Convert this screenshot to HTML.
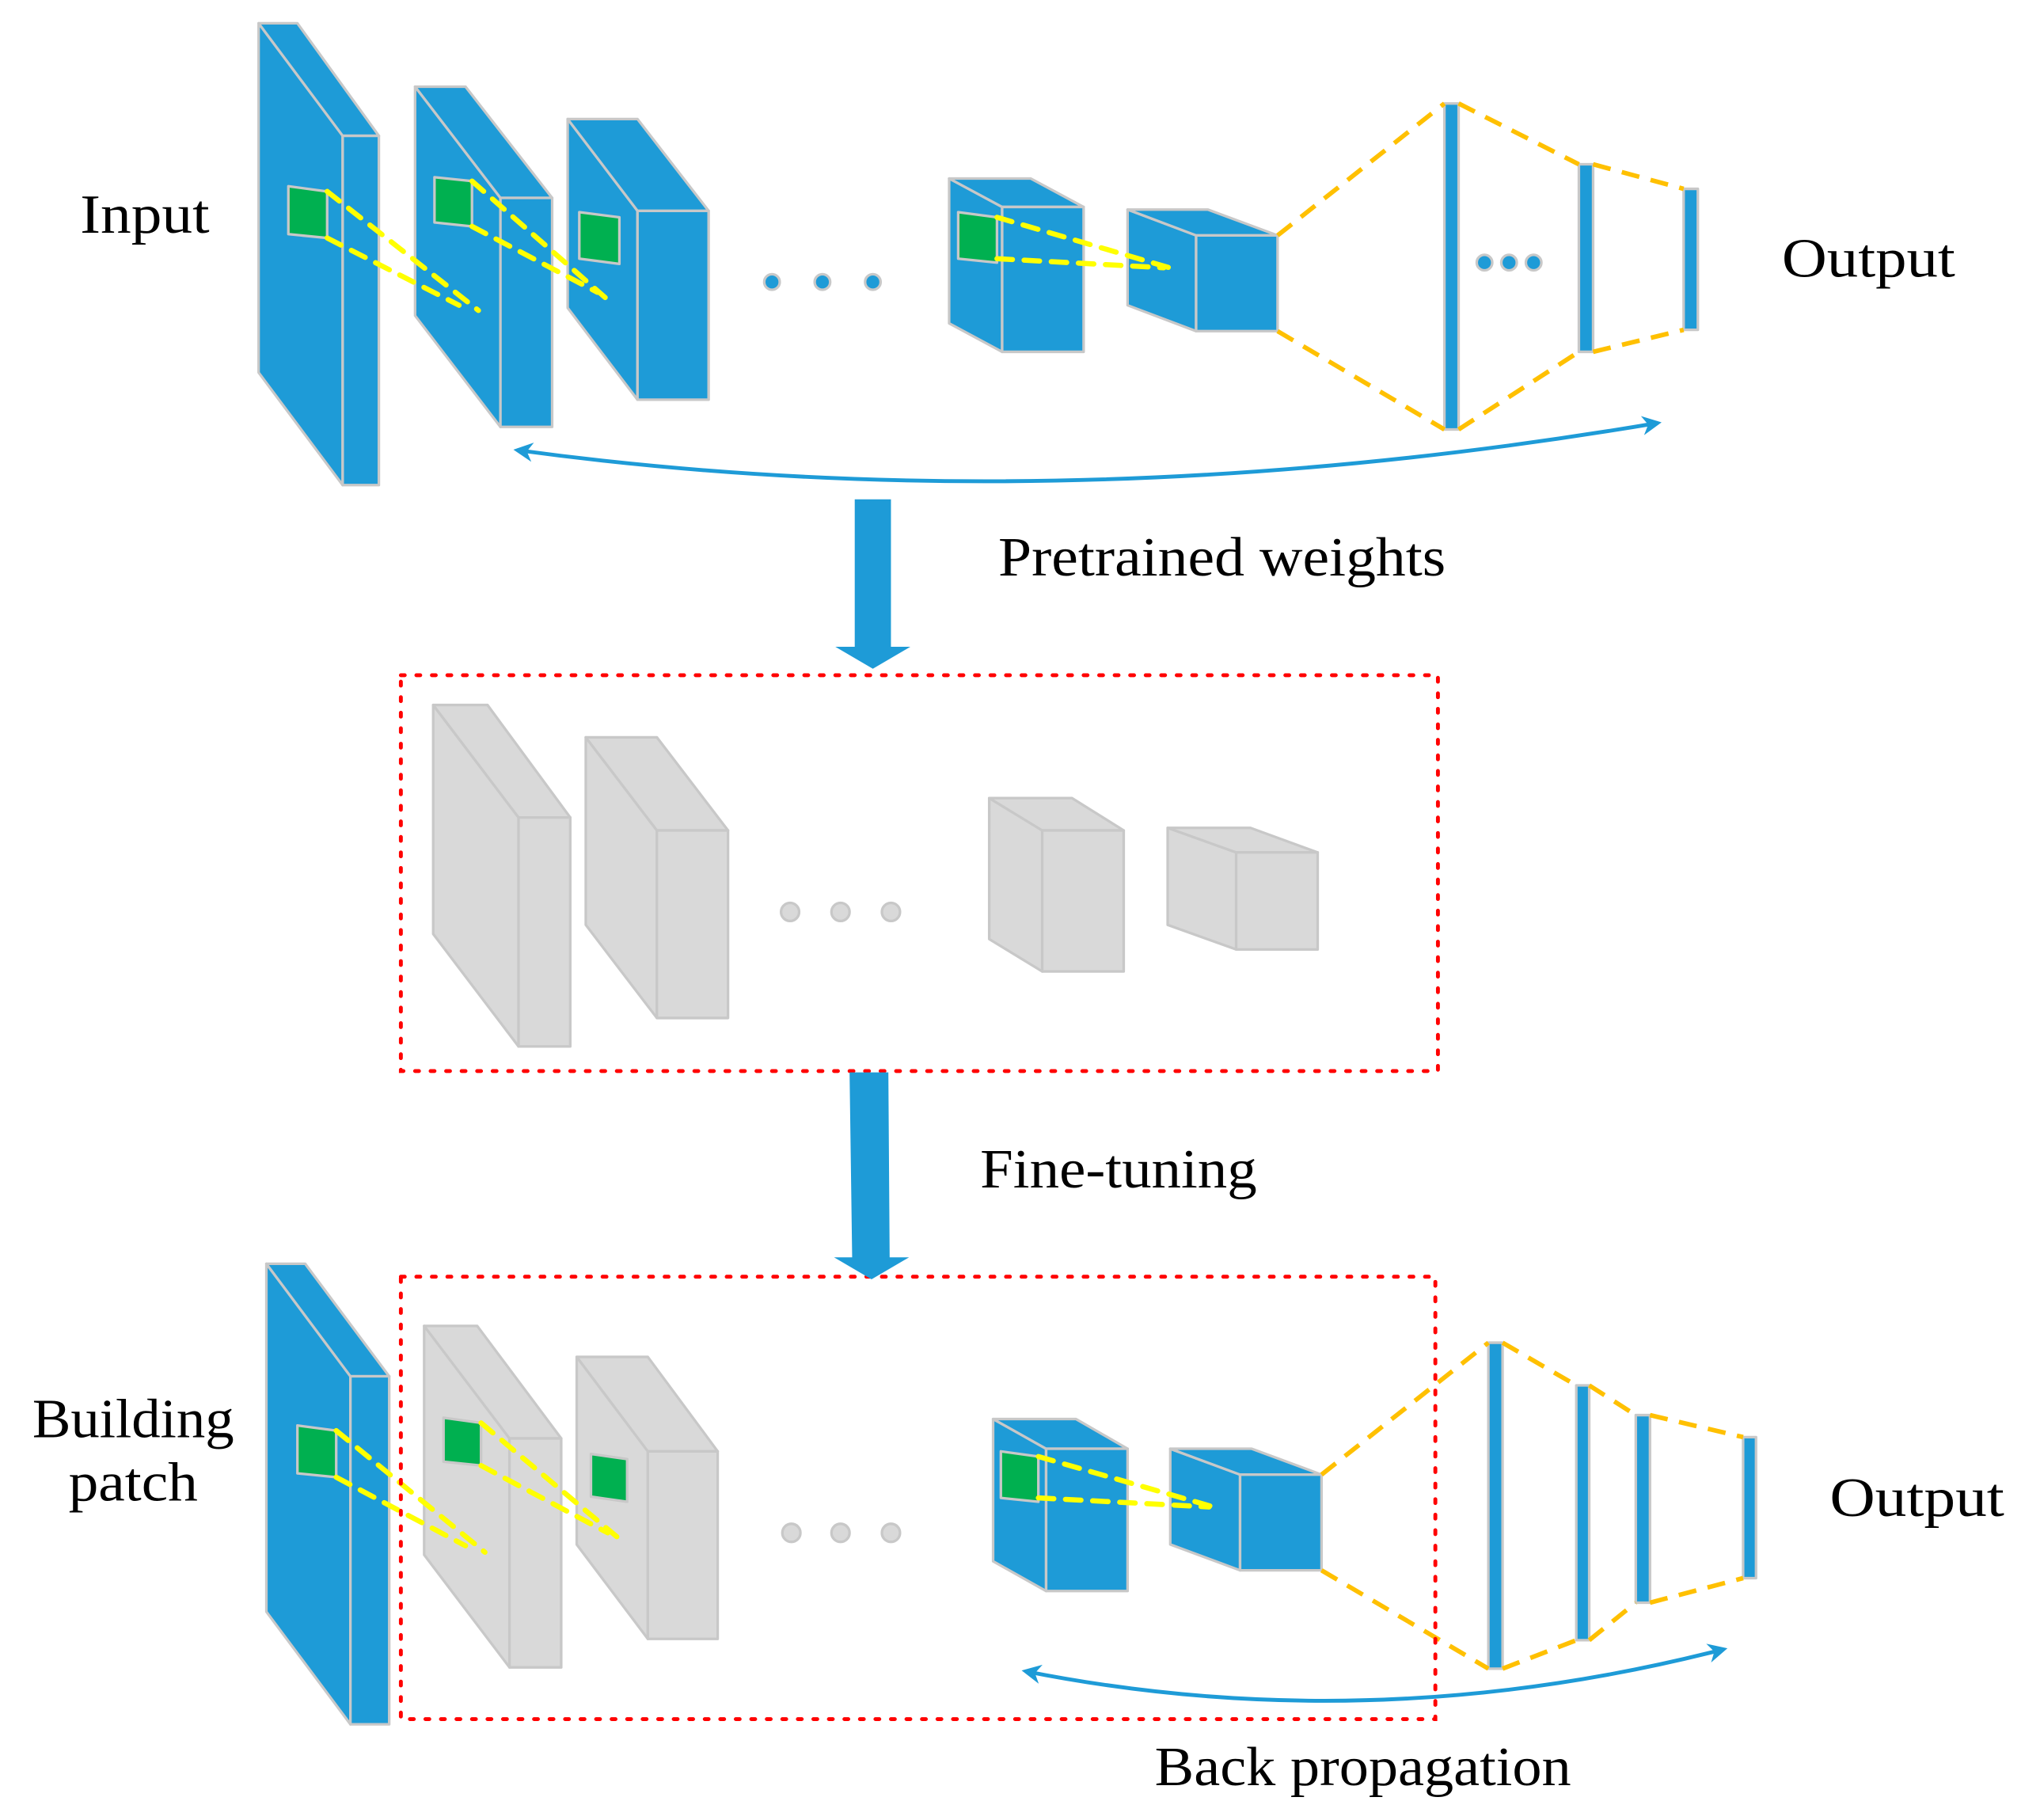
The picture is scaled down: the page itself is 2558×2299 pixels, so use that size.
<!DOCTYPE html>
<html><head><meta charset="utf-8"><style>
html,body{margin:0;padding:0;background:#fff;}
svg{display:block;}
text{font-family:"Liberation Serif",serif;font-size:43px;fill:#000;}
</style></head><body>
<svg width="2558" height="2299" viewBox="0 0 1566 1407" preserveAspectRatio="none" xmlns="http://www.w3.org/2000/svg">
<defs>
<marker id="ah" viewBox="0 0 10 10" refX="8" refY="5" markerWidth="5" markerHeight="5" orient="auto-start-reverse"><path d="M0,0 L10,5 L0,10 L3,5 z" fill="#1e9bd7"/></marker>
</defs>
<g stroke="#c8c8c8" stroke-width="2" stroke-linejoin="round">
<g fill="#1e9bd7">
<polygon points="200,18 265,105 265,375 200,288"/><polygon points="200,18 230,18 293,105 265,105"/><rect x="265" y="105" width="28" height="270"/>
<polygon points="321,67 387,153 387,330 321,244"/><polygon points="321,67 360,67 427,153 387,153"/><rect x="387" y="153" width="40" height="177"/>
<polygon points="439,92 493,163 493,309 439,238"/><polygon points="439,92 493,92 548,163 493,163"/><rect x="493" y="163" width="55" height="146"/>
<polygon points="734,138 775,160 775,272 734,250"/><polygon points="734,138 797,138 838,160 775,160"/><rect x="775" y="160" width="63" height="112"/>
<polygon points="872,162 925,182 925,256 872,236"/><polygon points="872,162 934,162 988,182 925,182"/><rect x="925" y="182" width="63" height="74"/>
<circle cx="597" cy="218" r="6"/><circle cx="636" cy="218" r="6"/><circle cx="675" cy="218" r="6"/>
<rect x="1117" y="80" width="11" height="252"/><rect x="1221" y="127" width="11" height="145"/><rect x="1302" y="146" width="11" height="109"/>
<circle cx="1148" cy="203" r="6"/><circle cx="1167" cy="203" r="6"/><circle cx="1186" cy="203" r="6"/>
</g>
<g fill="#00b050">
<polygon points="223,144 253,148 253,184 223,181"/>
<polygon points="336,137 365,140 365,175 336,172"/>
<polygon points="448,164 479,168 479,204 448,200"/>
<polygon points="741,164 771,168 771,203 741,200"/>
</g>
<g fill="#d9d9d9">
<polygon points="335,545 401,632 401,809 335,722"/><polygon points="335,545 377,545 441,632 401,632"/><rect x="401" y="632" width="40" height="177"/>
<polygon points="453,570 508,642 508,787 453,715"/><polygon points="453,570 508,570 563,642 508,642"/><rect x="508" y="642" width="55" height="145"/>
<polygon points="765,617 806,642 806,751 765,726"/><polygon points="765,617 829,617 869,642 806,642"/><rect x="806" y="642" width="63" height="109"/>
<polygon points="903,640 956,659 956,734 903,715"/><polygon points="903,640 967,640 1019,659 956,659"/><rect x="956" y="659" width="63" height="75"/>
<circle cx="611" cy="705" r="7"/><circle cx="650" cy="705" r="7"/><circle cx="689" cy="705" r="7"/>
<polygon points="328,1025 394,1112 394,1289 328,1202"/><polygon points="328,1025 369,1025 434,1112 394,1112"/><rect x="394" y="1112" width="40" height="177"/>
<polygon points="446,1049 501,1122 501,1267 446,1194"/><polygon points="446,1049 501,1049 555,1122 501,1122"/><rect x="501" y="1122" width="54" height="145"/>
<circle cx="612" cy="1185" r="7"/><circle cx="650" cy="1185" r="7"/><circle cx="689" cy="1185" r="7"/>
</g>
<g fill="#1e9bd7">
<polygon points="206,977 271,1064 271,1333 206,1246"/><polygon points="206,977 236,977 301,1064 271,1064"/><rect x="271" y="1064" width="30" height="269"/>
<polygon points="768,1097 809,1120 809,1230 768,1207"/><polygon points="768,1097 832,1097 872,1120 809,1120"/><rect x="809" y="1120" width="63" height="110"/>
<polygon points="905,1120 959,1140 959,1214 905,1194"/><polygon points="905,1120 968,1120 1022,1140 959,1140"/><rect x="959" y="1140" width="63" height="74"/>
<rect x="1151" y="1038" width="11" height="252"/><rect x="1219" y="1071" width="10" height="197"/><rect x="1265" y="1094" width="11" height="145"/><rect x="1348" y="1111" width="10" height="109"/>
</g>
<g fill="#00b050">
<polygon points="230,1102 260,1106 260,1142 230,1139"/>
<polygon points="343,1096 372,1100 372,1133 343,1130"/>
<polygon points="457,1124 485,1128 485,1161 457,1157"/>
<polygon points="774,1122 803,1126 803,1161 774,1158"/>
</g>
</g>
<g stroke="#ffff00" stroke-width="4" stroke-dasharray="12,9" stroke-linecap="round" fill="none">
<line x1="253" y1="148" x2="370" y2="240"/><line x1="253" y1="184" x2="355" y2="236"/>
<line x1="365" y1="140" x2="468" y2="230"/><line x1="365" y1="175" x2="462" y2="226"/>
<line x1="771" y1="168" x2="908" y2="208"/><line x1="771" y1="200" x2="900" y2="207"/>
<line x1="260" y1="1106" x2="375" y2="1200"/><line x1="260" y1="1142" x2="360" y2="1195"/>
<line x1="372" y1="1100" x2="477" y2="1188"/><line x1="372" y1="1133" x2="470" y2="1185"/>
<line x1="803" y1="1126" x2="942" y2="1166"/><line x1="803" y1="1158" x2="935" y2="1165"/>
</g>
<g stroke="#ffc000" stroke-width="3.5" stroke-dasharray="14,9" fill="none">
<line x1="988" y1="182" x2="1117" y2="80"/><line x1="988" y1="256" x2="1117" y2="332"/>
<line x1="1128" y1="80" x2="1221" y2="127"/><line x1="1128" y1="332" x2="1221" y2="272"/>
<line x1="1232" y1="127" x2="1302" y2="146"/><line x1="1232" y1="272" x2="1302" y2="255"/>
<line x1="1022" y1="1140" x2="1151" y2="1038"/><line x1="1022" y1="1214" x2="1151" y2="1290"/>
<line x1="1162" y1="1038" x2="1219" y2="1071"/><line x1="1162" y1="1290" x2="1219" y2="1268"/>
<line x1="1229" y1="1071" x2="1265" y2="1094"/><line x1="1229" y1="1268" x2="1265" y2="1239"/>
<line x1="1276" y1="1094" x2="1348" y2="1111"/><line x1="1276" y1="1239" x2="1348" y2="1220"/>
</g>
<g stroke="#ff0000" stroke-width="3" stroke-dasharray="3,9" stroke-linecap="round" fill="none">
<rect x="310" y="522" width="802" height="306"/>
<rect x="310" y="987" width="800" height="342"/>
</g>
<g stroke="#1e9bd7" stroke-width="3" fill="none">
<path d="M400,348 Q820,405 1282,327" marker-start="url(#ah)" marker-end="url(#ah)"/>
<path d="M793,1292 Q1060,1345 1333,1275" marker-start="url(#ah)" marker-end="url(#ah)"/>
</g>
<polygon points="661,386 689,386 689,500 704,500 675,517 646,500 661,500" fill="#1e9bd7"/>
<polygon points="657,829 687,829 688,972 703,972 674,989 645,972 659,972" fill="#1e9bd7"/>
<text x="62" y="180" textLength="100" lengthAdjust="spacingAndGlyphs">Input</text>
<text x="1378" y="214" textLength="134" lengthAdjust="spacingAndGlyphs">Output</text>
<text x="772" y="445" textLength="346" lengthAdjust="spacingAndGlyphs">Pretrained weights</text>
<text x="758" y="918" textLength="214" lengthAdjust="spacingAndGlyphs">Fine-tuning</text>
<text x="25" y="1111" textLength="156" lengthAdjust="spacingAndGlyphs">Building</text>
<text x="53" y="1160" textLength="100" lengthAdjust="spacingAndGlyphs">patch</text>
<text x="1415" y="1172" textLength="135" lengthAdjust="spacingAndGlyphs">Output</text>
<text x="893" y="1380" textLength="322" lengthAdjust="spacingAndGlyphs">Back propagation</text>
</svg>
</body></html>
